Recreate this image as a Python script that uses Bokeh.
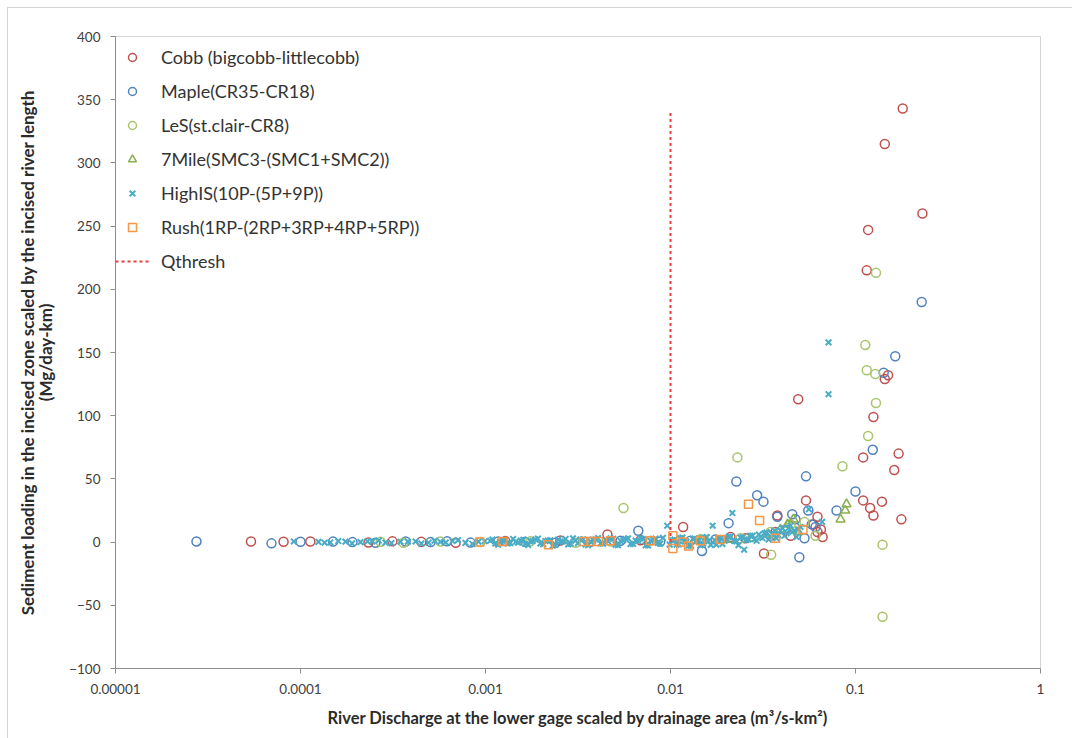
from bokeh.plotting import figure
from bokeh.models import FixedTicker, CustomJSTickFormatter, Legend, LegendItem
from bokeh.embed import file_html
from bokeh.resources import INLINE

# ---------------- data ----------------
cobb_x = [5.4e-5, 8.1e-5, 1.13e-4, 2.33e-4, 3.14e-4, 4.5e-4, 6.9e-4, 1.28e-3, 2.54e-3,
          4.56e-3, 6.89e-3, 0.0117, 0.0145, 0.0211, 0.0254, 0.032, 0.037, 0.0378, 0.0446,
          0.054, 0.0593, 0.0623, 0.0623, 0.0664, 0.065, 0.049, 0.11, 0.125, 0.171, 0.162,
          0.11, 0.139, 0.12, 0.125, 0.177, 0.144, 0.15, 0.117, 0.115, 0.23, 0.144, 0.18]
cobb_y = [0.5, 0.3, 0.5, -0.4, 0.6, 0.2, -0.5, 0.8, 1.2,
          6, 1.5, 12, 2, 4, 3, -9, 8, 21, 5,
          33, 14, 20, 8, 4, 10, 113, 67, 99, 70, 57,
          33, 32, 27, 21, 18, 129, 132, 247, 215, 260, 315, 343]

maple_x = [2.74e-5, 6.97e-5, 1.0e-4, 1.5e-4, 1.91e-4, 2.54e-4, 3.7e-4, 5.05e-4, 6.2e-4,
           8.3e-4, 1.17e-3, 1.64e-3, 2.39e-3, 3.7e-3, 5.37e-3, 6.7e-3, 8.8e-3, 0.0128,
           0.0148, 0.0175, 0.0206, 0.0227, 0.0294, 0.0318, 0.0347, 0.0419, 0.0455, 0.0474,
           0.0497, 0.054, 0.053, 0.0608, 0.0378, 0.0556, 0.058, 0.079, 0.1, 0.124, 0.142,
           0.164, 0.228]
maple_y = [0.5, -1, 0.3, 0.4, 0, -0.5, 0.5, 0, 0.6,
           -0.4, 0.5, 0.2, -0.5, 0.3, 1, 9, 0.5, 1,
           -7, 2, 15, 48, 37, 32, 5, 10, 22, 18,
           -12, 52, 3, 12, 20, 25, 14, 25, 40, 73, 134,
           147, 190]

les_x = [2.71e-4, 3.6e-4, 5.7e-4, 9.4e-4, 1.75e-3, 3.06e-3, 5.57e-3, 4.74e-3, 7.8e-3,
         0.0145, 0.0239, 0.023, 0.035, 0.0347, 0.0446, 0.053, 0.0608, 0.085, 0.113,
         0.115, 0.117, 0.128, 0.129, 0.129, 0.14, 0.14]
les_y = [0.3, -0.5, 0.5, 0, 0.6, -0.5, 27, 0.5, 1,
         2, 3, 67, -10, 8, 14, 16, 5, 60, 156,
         136, 84, 133, 213, 110, -2, -59]

mile_x = [0.0145, 0.0211, 0.027, 0.0339, 0.0393, 0.0429, 0.0462, 0.049, 0.083, 0.088, 0.0894]
mile_y = [1, 2, 3, 6, 10, 14, 18, 8, 18, 25, 30]

high_x = [9.2e-5, 1.25e-4, 1.45e-4, 1.75e-4, 2.11e-4, 2.45e-4, 2.88e-4, 3.47e-4, 4.19e-4,
          4.92e-4, 5.7e-4, 6.63e-4, 7.8e-4, 9.17e-4, 1.06e-3, 1.13e-3, 1.2e-3, 1.28e-3,
          1.36e-3, 1.46e-3, 1.55e-3, 1.64e-3, 1.75e-3, 1.86e-3, 1.98e-3, 2.11e-3, 2.24e-3,
          2.39e-3, 2.54e-3, 2.71e-3, 2.88e-3, 3.06e-3, 3.26e-3, 3.47e-3, 3.7e-3, 3.94e-3,
          4.19e-3, 4.46e-3, 4.74e-3, 5.05e-3, 5.37e-3, 5.72e-3, 6.08e-3, 6.48e-3, 6.89e-3,
          7.34e-3, 7.8e-3, 8.3e-3, 8.8e-3, 0.0096, 0.0102, 0.0108, 0.0113, 0.0119, 0.0125,
          0.0132, 0.0139, 0.0145, 0.0154, 0.016, 0.0169, 0.0177, 0.0186, 0.0196, 0.0206,
          0.0216, 0.0227, 0.0239, 0.025, 0.0264, 0.0278, 0.0292, 0.0306, 0.0322, 0.0339,
          0.0356, 0.0374, 0.0393, 0.0413, 0.0434, 0.0455, 0.048, 0.0504, 0.056, 0.066,
          0.0715, 0.0715,
          1.35e-4, 1.6e-4, 1.9e-4, 2.3e-4, 2.65e-4, 3.1e-4, 3.8e-4, 4.5e-4, 5.3e-4, 6.1e-4,
          7.1e-4, 8.5e-4, 9.9e-4, 1.09e-3, 1.17e-3, 1.24e-3, 1.32e-3, 1.41e-3, 1.5e-3, 1.6e-3,
          1.7e-3, 1.8e-3, 1.92e-3, 2.05e-3, 2.17e-3, 2.31e-3, 2.47e-3, 2.62e-3, 2.8e-3, 2.97e-3,
          3.16e-3, 3.37e-3, 3.58e-3, 3.82e-3, 4.06e-3, 4.32e-3, 4.6e-3, 4.9e-3, 5.2e-3, 5.55e-3,
          5.9e-3, 6.28e-3, 6.68e-3, 7.1e-3, 7.56e-3, 8.05e-3, 8.55e-3, 9.1e-3, 0.0099, 0.0105,
          0.0111, 0.0116, 0.0122, 0.0129, 0.0135, 0.0142, 0.015, 0.0157, 0.0165, 0.0173,
          0.0181, 0.0191, 0.0201, 0.0211, 0.0221, 0.0233, 0.0245, 0.0257, 0.027, 0.0285,
          0.03, 0.0314, 0.033, 0.0347, 0.0365, 0.0383, 0.0403, 0.0424, 0.0445, 0.0467,
          0.049]
high_y = [0.5, 0.2, -0.3, 0.4, 0, 0.6, -0.4, 0.3, 0.5,
          -0.5, 0.2, 0.8, -0.6, 0.4, 1, -1, 0.5, 1.5,
          -0.8, 0.3, 1.2, -1.5, 0.6, 2, -1, 0.8, 1.5,
          -2, 0.5, 2.5, -1.2, 1, 2, -1.8, 0.4, 2.2,
          -1, 1.6, 3, -2, 0.8, 2.4, -1.5, 1.2, 3,
          -2.5, 1, 2.8, -1.2, 13, 1.5, -2, 3, 0.5, -3,
          2.5, 1, -2.5, 3.5, 0.5, 13, -2, 3, 1, 4,
          23, 0.5, 3.5, -6, 2, 5, 1, 4, 7, 2,
          6, 3, 9, 5, 11, 8, 4, 12, 26, 16,
          117, 158,
          -0.5, 0.8, -1, 0.6, 1.2, -0.8, 0.4, -1.2, 1, -0.3,
          1.5, -1.5, 0.7, 2, -2, 1, -1, 2.5, -0.5, 1.8,
          -2.2, 0.9, 2.8, -1.6, 1.2, -2.8, 2, 0.5, -1.8, 3,
          -0.8, 2.2, -2.5, 1.4, 3.2, -1.2, 0.6, 2.6, -2.4, 1.6,
          3, -1.4, 0.8, 2.4, -2.6, 1.8, -0.6, 3.4, -2, 2,
          -1.8, 3.6, 0.4, -2.8, 2.8, 1, -1.2, 4, -2.2, 1.6,
          3.2, -1.5, 2.2, 4.2, 0.8, -2.4, 3.8, 1.6, 5, 2.4,
          6, 3.2, 7.5, 4.5, 9, 5.5, 11, 7, 13, 9,
          10]

rush_x = [9.3e-4, 1.24e-3, 2.19e-3, 3.39e-3, 3.7e-3, 4.08e-3, 4.74e-3, 7.8e-3, 0.0103,
          0.0103, 0.0117, 0.0125, 0.0145, 0.0186, 0.0264, 0.0303, 0.037, 0.052]
rush_y = [0, 0.5, -2, 0.5, 0.5, 0.5, 1, 1, 5,
          -5, 0, -3, 1, 2, 30, 17, 3, 10]

qthresh_x = [0.01, 0.01]
qthresh_y = [0, 340]

x_ticks = [1e-5, 1e-4, 1e-3, 1e-2, 1e-1, 1]
y_ticks = [-100, -50, 0, 50, 100, 150, 200, 250, 300, 350, 400]

FONT = "Lato"

# ---------------- figure ----------------
p = figure(width=1065, height=731, x_axis_type="log",
           x_range=(1e-5, 1), y_range=(-100, 400),
           output_backend="svg", toolbar_location=None,
           min_border_left=107, min_border_right=33,
           min_border_top=28, min_border_bottom=71)
p.margin = (7, 0, 0, 7)
p.styles = {"border-top": "1.5px solid #d4d4d4", "border-left": "1.5px solid #d4d4d4"}
p.background_fill_color = "white"
p.border_fill_color = "white"
p.outline_line_color = "#d4d4d4"
p.outline_line_width = 1
p.grid.visible = False

CO = "#C0504D"
MA = "#4F81BD"
LE = "#A9C46C"
MI = "#8AAE4A"
HI = "#4BACC6"
RU = "#F79646"

r_cobb = p.scatter(cobb_x, cobb_y, marker="circle", size=9, fill_color=None,
                   line_color=CO, line_width=1.5)
r_maple = p.scatter(maple_x, maple_y, marker="circle", size=9, fill_color=None,
                    line_color=MA, line_width=1.5)
r_les = p.scatter(les_x, les_y, marker="circle", size=9, fill_color=None,
                  line_color=LE, line_width=1.5)
r_mile = p.scatter(mile_x, mile_y, marker="triangle", size=9, fill_color=None,
                   line_color=MI, line_width=1.5)
r_high = p.scatter(high_x, high_y, marker="x", size=8, line_color=HI, line_width=2)
r_rush = p.scatter(rush_x, rush_y, marker="square", size=8, fill_color=None,
                   line_color=RU, line_width=1.5)
r_q = p.line(qthresh_x, qthresh_y, line_color="#F03C3C", line_width=2, line_dash="3 3")

# axes
for ax in (p.xaxis[0], p.yaxis[0]):
    ax.axis_line_color = "#8c8c8c"
    ax.major_tick_line_color = "#8c8c8c"
    ax.major_tick_out = 5
    ax.major_tick_in = 0
    ax.minor_tick_line_color = None
    ax.major_label_text_font = FONT
    ax.major_label_text_font_size = "13.5px"
    ax.major_label_text_color = "#404040"
    ax.axis_label_text_font = FONT
    ax.axis_label_text_font_style = "bold"
    ax.axis_label_text_color = "#2b2b2b"
    ax.axis_label_text_line_height = 0.85

p.xaxis.ticker = FixedTicker(ticks=x_ticks)
p.xaxis.formatter = CustomJSTickFormatter(code="return tick.toString();")
p.xaxis.major_label_standoff = 10
p.xaxis.axis_label = "River Discharge at the lower gage scaled by drainage area (m\u00b3/s-km\u00b2)"
p.xaxis.axis_label_text_font_size = "16.5px"
p.xaxis.axis_label_standoff = 11

p.yaxis.ticker = FixedTicker(ticks=y_ticks)
p.yaxis.major_label_standoff = 10
p.yaxis.axis_label = "Sediment loading in the incised zone scaled by the incised river length\n(Mg/day-km)"
p.yaxis.axis_label_text_font_size = "17px"
p.yaxis.axis_label_standoff = 10

legend = Legend(items=[
    LegendItem(label="Cobb (bigcobb-littlecobb)", renderers=[r_cobb]),
    LegendItem(label="Maple(CR35-CR18)", renderers=[r_maple]),
    LegendItem(label="LeS(st.clair-CR8)", renderers=[r_les]),
    LegendItem(label="7Mile(SMC3-(SMC1+SMC2))", renderers=[r_mile]),
    LegendItem(label="HighIS(10P-(5P+9P))", renderers=[r_high]),
    LegendItem(label="Rush(1RP-(2RP+3RP+4RP+5RP))", renderers=[r_rush]),
    LegendItem(label="Qthresh", renderers=[r_q]),
], location=(0, 396))
legend.border_line_color = None
legend.background_fill_alpha = 0
legend.margin = 0
legend.padding = 2
legend.spacing = 12
legend.glyph_width = 34
legend.glyph_height = 20
legend.label_height = 20
legend.label_standoff = 12
legend.label_text_font = FONT
legend.label_text_font_size = "18px"
legend.label_text_color = "#333333"
p.add_layout(legend)

open("out.html", "w").write(file_html(p, INLINE))
